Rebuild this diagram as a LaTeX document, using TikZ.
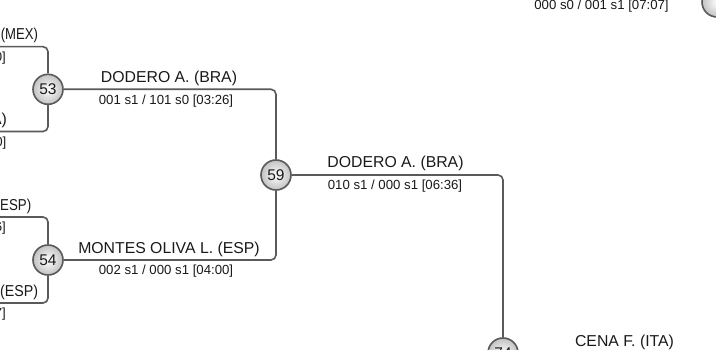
\documentclass[tikz,border=0pt]{standalone}
\usepackage{fontspec}
\usepackage{graphicx}
\setmainfont{Liberation Sans}
\usetikzlibrary{shadings}
\definecolor{linecol}{HTML}{5A5A5A}
\definecolor{txtcol}{HTML}{1A1A1A}
\tikzset{
  matchnode/.style={circle, draw=linecol, line width=1.6pt, minimum size=30pt, inner sep=0pt,
    inner color=white, outer color=black!24, font=\fontsize{15.5}{15.5}\selectfont, text=txtcol},
  connline/.style={draw=linecol, line width=1.6pt, rounded corners=5pt},
  plname/.style={anchor=base, font=\fontsize{15.8}{16}\selectfont, text=txtcol, inner sep=0pt},
  plscore/.style={anchor=base, font=\fontsize{13.2}{14}\selectfont, text=txtcol, inner sep=0pt},
  plnamel/.style={plname, anchor=base west},
  plnamer/.style={plname, anchor=base east},
  plscorer/.style={plscore, anchor=base east}
}
\begin{document}
\begin{tikzpicture}[x=1pt, y=-1pt]
\useasboundingbox (0,0) rectangle (716,350);
\clip (0,0) rectangle (716,350);
\fill[white] (0,0) rectangle (716,350);

% free ends
\coordinate (a1) at (-2,46.7);
\coordinate (a2) at (-2,131.5);
\coordinate (b1) at (-2,217);
\coordinate (b2) at (-2,303);

% match circles
\node[matchnode] (m53) at (48,89.3) {53};
\node[matchnode] (m54) at (48,260) {54};
\node[matchnode] (m59) at (276,175) {59};
\node[matchnode] (m74) at (503,353) {74};
\node[matchnode] (mtop) at (717,2) {};

% connectors
\draw[connline] (a1) -| (m53.north);
\draw[connline] (a2) -| (m53.south);
\draw[connline] (b1) -| (m54.north);
\draw[connline] (b2) -| (m54.south);
\draw[connline] (m53.east) -| (m59.north);
\draw[connline] (m54.east) -| (m59.south);
\draw[connline] (m59.east) -| (m74.north);

% partial labels at left edge
\node[plnamel] (t1) at (0.6,39.5) {\scalebox{0.83}[1]{(MEX)}};
\node[plscorer] (t2) at (6,61.5) {0]};
\node[plnamer] (t3) at (7,125) {A)};
\node[plscorer] (t4) at (6.5,147) {0]};
\node[plnamel] (t5) at (0,210.5) {\scalebox{0.84}[1]{ESP)}};
\node[plscorer] (t6) at (6,232) {6]};
\node[plnamel] (t7) at (0,296.5) {\scalebox{0.9}[1]{(ESP)}};
\node[plscorer] (t8) at (6,318) {7]};

% labels of match 53
\node[plname] (n53) at (169,82.8) {DODERO A. (BRA)};
\node[plscore] (s53) at (166,104.2) {001 s1 / 101 s0 [03:26]};
% labels of match 54
\node[plname] (n54) at (169,253.4) {MONTES OLIVA L. (ESP)};
\node[plscore] (s54) at (166,274.6) {002 s1 / 000 s1 [04:00]};
% labels of match 59
\node[plname] (n59) at (395.5,168) {DODERO A. (BRA)};
\node[plscore] (s59) at (395,189.8) {010 s1 / 000 s1 [06:36]};
% labels of match 74
\node[plname] (n74) at (624.5,346.7) {CENA F. (ITA)};
% score of the match above
\node[plscore] (stop) at (601.5,9.5) {000 s0 / 001 s1 [07:07]};
\end{tikzpicture}
\end{document}
